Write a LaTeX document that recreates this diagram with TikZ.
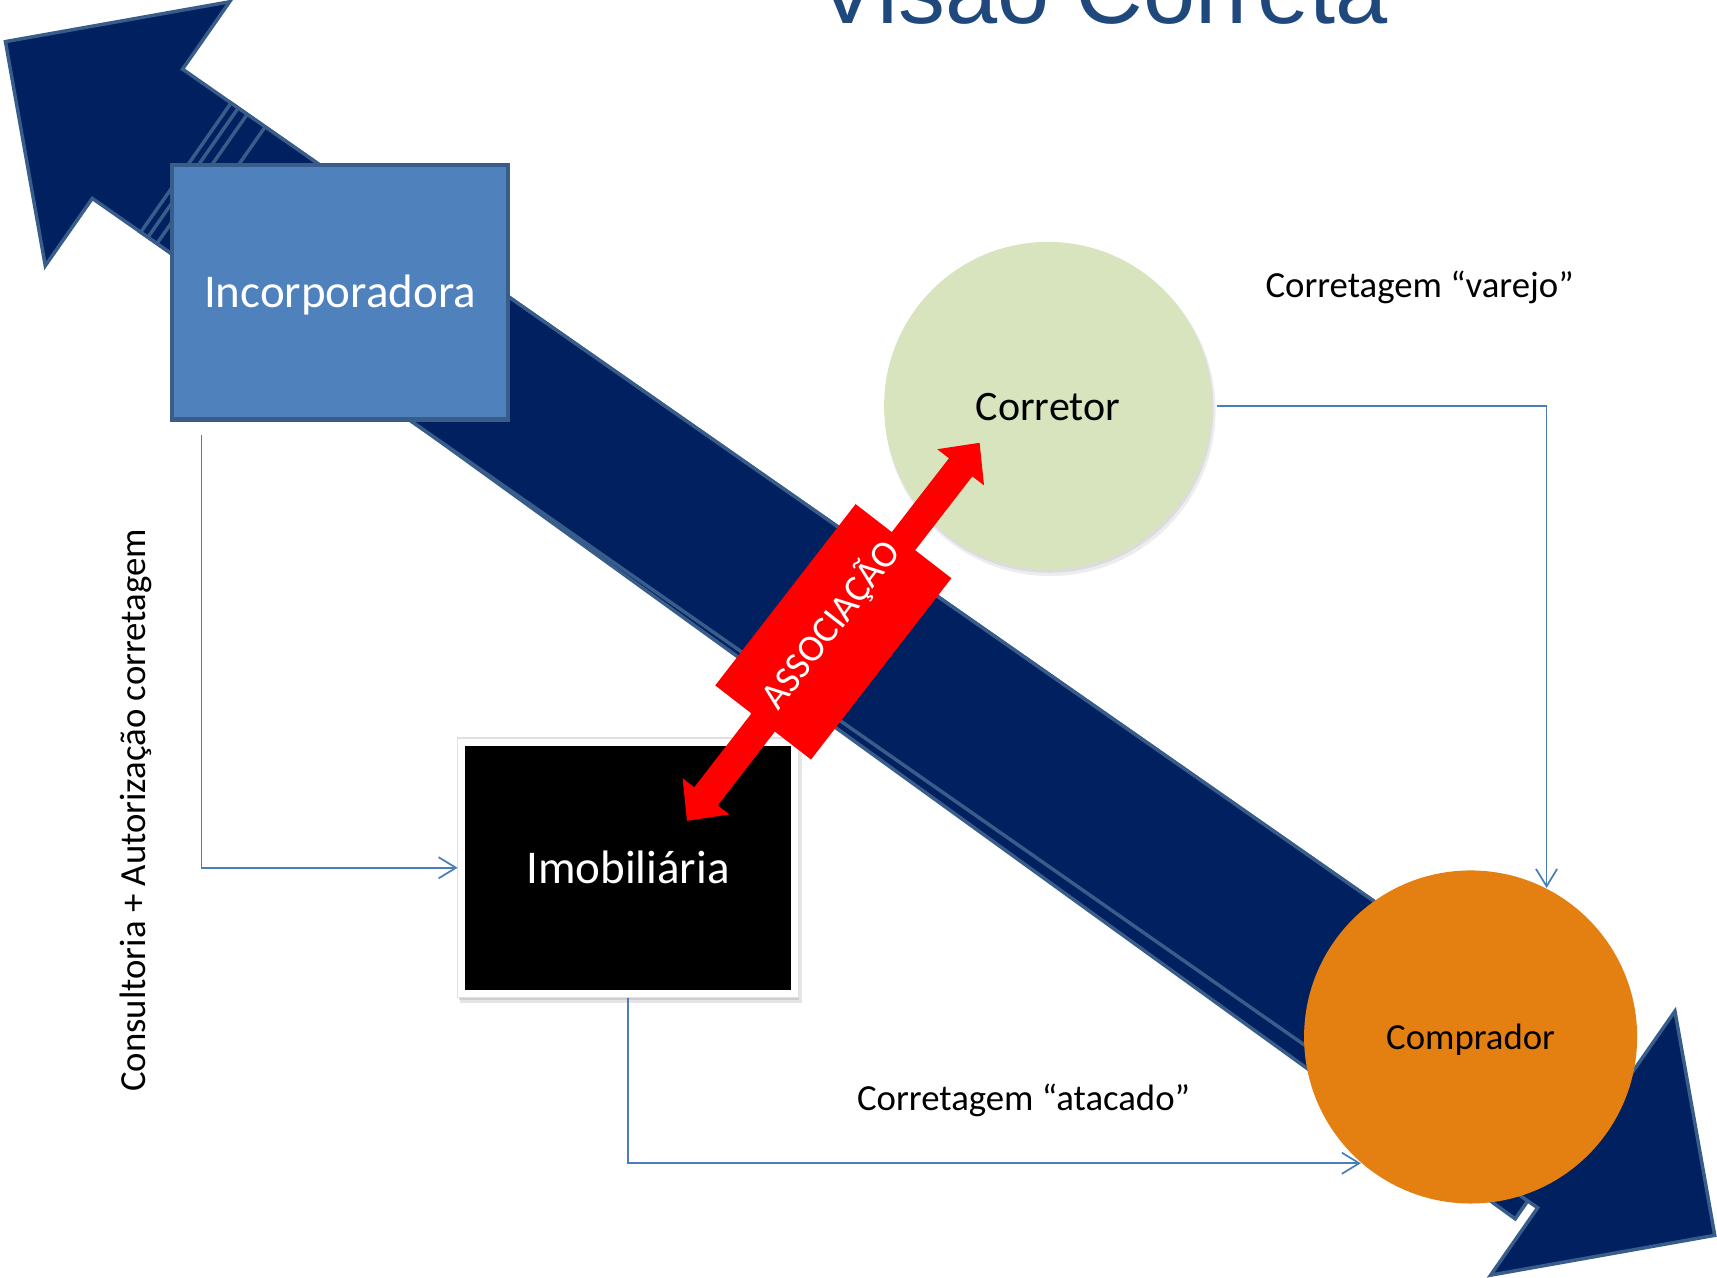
\documentclass[tikz,border=0pt]{standalone}
\usepackage{fontspec}
\setmainfont{Carlito}
\newfontfamily\titlefont{Liberation Sans}
\usetikzlibrary{arrows.meta,calc}
\definecolor{navy}{HTML}{002060}
\definecolor{navyedge}{HTML}{385D8A}
\definecolor{boxblue}{HTML}{4F81BD}
\definecolor{lightgreen}{HTML}{D7E4BD}
\definecolor{orangeC}{RGB}{228,128,18}
\definecolor{connblue}{HTML}{4A7EBB}
\definecolor{titleblue}{HTML}{1F497D}
\begin{document}
\begin{tikzpicture}[x=0.01cm,y=-0.01cm,
  conn/.style={draw=connblue, line width=0.45pt, -{Straight Barb[length=4.5pt,width=5.5pt]}},
  bigarrow/.style={fill=navy, draw=navyedge, line width=0.9pt, line join=miter},
  lbl/.style={font=\fontsize{9.55pt}{11pt}\selectfont, inner sep=0pt, text=black},
  bigtxt/.style={font=\fontsize{12.2pt}{14pt}\selectfont, text=white, text depth=0pt, text height=0.28cm, inner sep=0pt},
  circtxt/.style={circle, inner sep=0pt, text=black, text depth=0pt}]
\useasboundingbox (0,0) rectangle (1568,1167);
\clip (0,0) rectangle (1568,1167);

% big double arrow
\begin{scope}[shift={(5,38)}, rotate=-34.93]
  \draw[bigarrow] (200,-72) -- (1746,-72) -- (1746,92) -- (520,72) -- (200,72) -- cycle;
  \draw[bigarrow] (0,0) -- (147,-147) -- (147,-72) -- (1757,-72) -- (1757,-147) -- (1904,0)
     -- (1757,147) -- (1757,72) -- (147,72) -- (147,147) -- cycle;
  \foreach \s in {201,209,219,239}
    \draw[navyedge, line width=0.9pt] (\s,-72) -- (\s,72);
\end{scope}

% Incorporadora
\node[bigtxt, draw=navyedge, fill=boxblue, line width=1.1pt,
      minimum width=3.07cm, minimum height=2.32cm] (incorp) at (310.5,267) {Incorporadora};

% Corretor
\fill[black, opacity=0.07] (959,375) circle[radius=1.51cm];
\fill[black, opacity=0.07] (958,373) circle[radius=1.50cm];
\node[circtxt, fill=lightgreen, minimum size=2.99cm, text height=0.27cm,
      font=\fontsize{10.9pt}{13pt}\selectfont] (corretor) at (957,370.5) {Corretor};

% Comprador
\node[circtxt, fill=orangeC, minimum size=3.04cm, text height=0.234cm,
      font=\fontsize{9.55pt}{11pt}\selectfont] (comprador) at (1343,947) {Comprador};

% Imobiliaria
\fill[black, opacity=0.10] (420,678) rectangle (732,916);
\fill[black, opacity=0.10] (419,676) rectangle (730,913);
\node[bigtxt, fill=black, draw=white, line width=2pt,
      minimum width=3.04cm, minimum height=2.30cm] (imob) at (573.5,792.5) {Imobiliária};
\draw[black!12, line width=0.3pt] (imob.south west) rectangle (imob.north east);

% connectors
\draw[conn] ($(incorp.south west)+(29,12)$) |- (imob.west);
\draw[conn] ($(corretor.east)+(4,0)$) -| (comprador.63);
\draw[conn] (imob.south) |- (comprador.229);

% labels
\node[lbl, anchor=base west] (varejo) at (1155,272) {Corretagem “varejo”};
\node[lbl, anchor=base west] (atacado) at (782,1014) {Corretagem “atacado”};
\node[lbl, rotate=90, anchor=base] (consult) at (133,740) {Consultoria + Autorização corretagem};

% red association arrow
\begin{scope}[shift={(761,577)}, rotate=52.26]
  \fill[red] (218.3,0) -- (190,27) -- (190,13.5) -- (104.7,13.5) -- (104.7,55.3)
    -- (-104.7,55.3) -- (-104.7,13.5) -- (-190,13.5) -- (-190,27) -- (-218.3,0)
    -- (-190,-27) -- (-190,-13.5) -- (-104.7,-13.5) -- (-104.7,-55.3)
    -- (104.7,-55.3) -- (104.7,-13.5) -- (190,-13.5) -- (190,-27) -- cycle;
  \node[transform shape, text=white, inner sep=0pt, text height=0.18cm, text depth=0pt,
        font=\fontsize{9.87pt}{12pt}\selectfont, xshift=1pt, yshift=1.1pt] (assoc) at (0,0) {ASSOCIAÇÃO};
\end{scope}

% title (cut by the top edge)
\node[font=\titlefont\fontsize{24.35pt}{28pt}\selectfont, text=titleblue,
      anchor=base west, inner sep=0pt] (title) at (745,21.8) {Visão Correta};
\end{tikzpicture}
\end{document}
